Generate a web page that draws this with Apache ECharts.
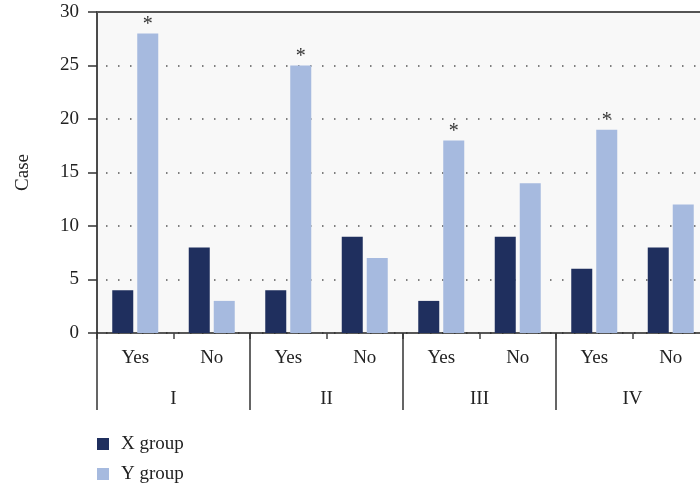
<!DOCTYPE html>
<html>
<head>
<meta charset="utf-8">
<script src="https://cdn.jsdelivr.net/npm/echarts@6/dist/echarts.min.js"></script>
<style>
  html, body { margin: 0; padding: 0; background: #fff; }
  #chart { width: 700px; height: 488px; }
</style>
</head>
<body>
<div id="chart"></div>
<script>
// Sub-categories (inner axis) and groups (outer axis)
const subCategories = ['Yes', 'No', 'Yes', 'No', 'Yes', 'No', 'Yes', 'No'];
const groups = ['I', 'II', 'III', 'IV'];

// Case counts per sub-category
const xGroup = [4, 8, 4, 9, 3, 9, 6, 8];
const yGroup = [28, 3, 25, 7, 18, 14, 19, 12];
// Significance markers shown above the Y group bars
const yMarks = ['*', '', '*', '', '*', '', '*', ''];

const yTicks = [0, 5, 10, 15, 20, 25, 30];

const FONT = '"Liberation Serif", "DejaVu Serif", serif';

const chart = echarts.init(document.getElementById('chart'));
chart.setOption({
  animation: false,
  textStyle: { fontFamily: FONT },
  grid: {
    left: 97, width: 612, top: 12, bottom: 155,
    outerBoundsMode: 'none',
    show: true, backgroundColor: '#f8f8f8', borderWidth: 0,
    containLabel: false
  },
  legend: {
    orient: 'vertical',
    left: 92, top: 429, height: 58,
    itemWidth: 12, itemHeight: 12, itemGap: 10,
    icon: 'rect',
    textStyle: { fontFamily: FONT, fontSize: 19, lineHeight: 20, color: '#222', padding: [0, 0, 0, 7] },
    data: ['X group', 'Y group']
  },
  xAxis: [
    {
      type: 'category',
      data: subCategories,
      position: 'bottom',
      axisLine: { show: true, lineStyle: { color: '#222', width: 1.5 } },
      axisTick: { show: true, length: 6, lineStyle: { color: '#444', width: 1.5 } },
      axisLabel: { fontFamily: FONT, fontSize: 19, color: '#222', margin: 16 },
      splitLine: { show: false }
    },
    {
      type: 'category',
      data: groups,
      position: 'bottom',
      gridIndex: 0,
      axisLine: { show: false },
      axisTick: { show: true, length: 77, lineStyle: { color: '#333', width: 1.5 } },
      axisLabel: { fontFamily: FONT, fontSize: 19, color: '#222', margin: 57 },
      splitLine: { show: false }
    },
    {
      // top frame line
      type: 'category',
      data: groups,
      position: 'top',
      axisLine: { show: true, lineStyle: { color: '#555', width: 2 } },
      axisTick: { show: false },
      axisLabel: { show: false },
      splitLine: { show: false }
    }
  ],
  yAxis: {
    type: 'value',
    min: yTicks[0], max: yTicks[yTicks.length - 1], interval: 5,
    name: 'Case',
    nameLocation: 'middle',
    nameGap: 64,
    nameRotate: 90,
    nameTextStyle: { fontFamily: FONT, fontSize: 19, color: '#222' },
    axisLine: { show: true, lineStyle: { color: '#111', width: 1.5 } },
    axisTick: { show: true, inside: false, length: 9, lineStyle: { color: '#333', width: 1.5 } },
    axisLabel: { fontFamily: FONT, fontSize: 19, color: '#222', margin: 18 },
    splitLine: {
      show: true,
      lineStyle: { color: '#555', width: 1.5, type: [1.5, 10.5], dashOffset: -9 }
    }
  },
  series: [
    {
      name: 'X group',
      type: 'bar',
      data: xGroup,
      barWidth: 21,
      barGap: '19%',
      itemStyle: { color: '#1f2f5e' }
    },
    {
      name: 'Y group',
      type: 'bar',
      data: yGroup,
      barWidth: 21,
      itemStyle: { color: '#a6badf' },
      label: {
        show: true,
        position: 'top',
        distance: -1,
        fontFamily: FONT,
        fontSize: 20,
        color: '#333',
        formatter: p => yMarks[p.dataIndex]
      }
    }
  ]
});
</script>
</body>
</html>
